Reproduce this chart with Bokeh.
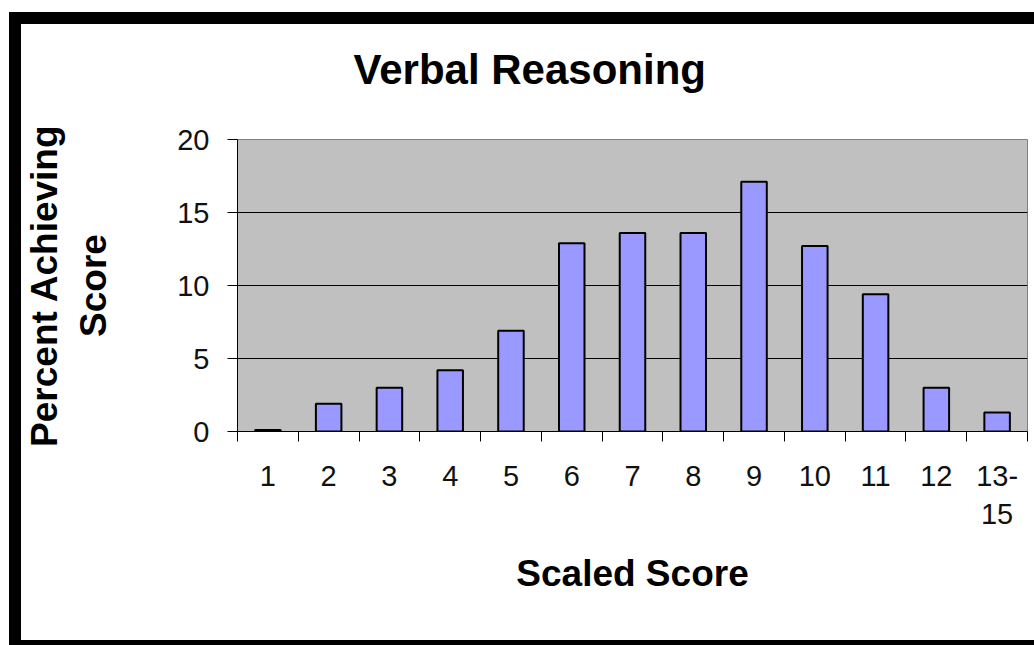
from bokeh.plotting import figure
from bokeh.models import (FactorRange, Range1d, LinearAxis, FixedTicker, Grid,
                          ColumnDataSource, Title)
from bokeh.embed import file_html
from bokeh.resources import INLINE

# ---- data ----
categories = ["1", "2", "3", "4", "5", "6", "7", "8", "9", "10", "11", "12", "13-15"]
percent = [0.1, 1.9, 3.0, 4.2, 6.9, 12.9, 13.6, 13.6, 17.1, 12.7, 9.4, 3.0, 1.3]
y_ticks = [0, 5, 10, 15, 20]
grid_values = [5, 10, 15]
title_text = "Verbal Reasoning"
x_title = "Scaled Score"
y_title = "Percent Achieving\nScore"

FONT = "Liberation Sans"
n = len(categories)

src = ColumnDataSource(data=dict(cat=categories, pct=percent))

p = figure(width=1013, height=616,
           x_range=FactorRange(*categories), y_range=Range1d(0, 20),
           x_axis_type=None, y_axis_type=None,
           output_backend="svg", toolbar_location=None,
           min_border_left=215, min_border_right=19,
           min_border_top=0, min_border_bottom=226)

# black frame around the whole chart area (as in the reference picture)
p.styles = {
    "box-sizing": "content-box",
    "margin-left": "9px",
    "margin-top": "12px",
    "border-left": "12px solid black",
    "border-top": "12px solid black",
    "border-bottom": "5px solid black",
}

p.background_fill_color = "#C0C0C0"
p.border_fill_color = "white"
p.outline_line_color = "#808080"
p.outline_line_width = 1

# title
p.title.text = title_text
p.title.text_font = FONT
p.title.text_font_size = "42px"
p.title.text_font_style = "bold"
p.title.text_color = "black"
p.title.align = "left"
p.title.offset = 116
p.title.vertical_align = "top"
p.title.standoff = 42

# empty gap between the title and the plot area
p.add_layout(Title(text=" ", text_font_size="1px", standoff=21), "above")

# horizontal gridlines
grid = Grid(dimension=1, ticker=FixedTicker(ticks=grid_values),
            grid_line_color="black", grid_line_width=1)
p.add_layout(grid)

# bars
p.vbar(x="cat", top="pct", width=0.42, source=src,
       fill_color="#9999FF", line_color="black", line_width=2)

# x axis: ticks at category boundaries (minor), labels at category centres
centres = [i + 0.5 for i in range(n)]
labels = {c: cat.replace("-", "-\n") for c, cat in zip(centres, categories)}
xaxis = LinearAxis(ticker=FixedTicker(ticks=centres, minor_ticks=list(range(n + 1))),
                   major_label_overrides=labels,
                   axis_label=x_title)
xaxis.axis_line_color = "black"
xaxis.axis_line_width = 1
xaxis.major_tick_out = 0
xaxis.major_tick_in = 0
xaxis.major_tick_line_color = None
xaxis.minor_tick_out = 10
xaxis.minor_tick_in = 0
xaxis.minor_tick_line_color = "black"
xaxis.minor_tick_line_width = 1
xaxis.major_label_standoff = 18
xaxis.major_label_text_font = FONT
xaxis.major_label_text_font_size = "29px"
xaxis.major_label_text_color = "#111111"
xaxis.axis_label_text_font = FONT
xaxis.axis_label_text_font_size = "37px"
xaxis.axis_label_text_font_style = "bold"
xaxis.axis_label_text_color = "black"
xaxis.axis_label_standoff = 20
p.add_layout(xaxis, "below")

# y axis
yaxis = LinearAxis(ticker=FixedTicker(ticks=y_ticks), axis_label=y_title)
yaxis.axis_line_color = "black"
yaxis.axis_line_width = 1
yaxis.major_tick_out = 10
yaxis.major_tick_in = 0
yaxis.major_tick_line_color = "black"
yaxis.minor_tick_line_color = None
yaxis.major_label_standoff = 18
yaxis.major_label_text_font = FONT
yaxis.major_label_text_font_size = "29px"
yaxis.major_label_text_color = "#111111"
yaxis.axis_label_text_font = FONT
yaxis.axis_label_text_font_size = "37px"
yaxis.axis_label_text_font_style = "bold"
yaxis.axis_label_text_color = "black"
yaxis.axis_label_standoff = 60
p.add_layout(yaxis, "left")

open("out.html", "w").write(file_html(p, INLINE))
